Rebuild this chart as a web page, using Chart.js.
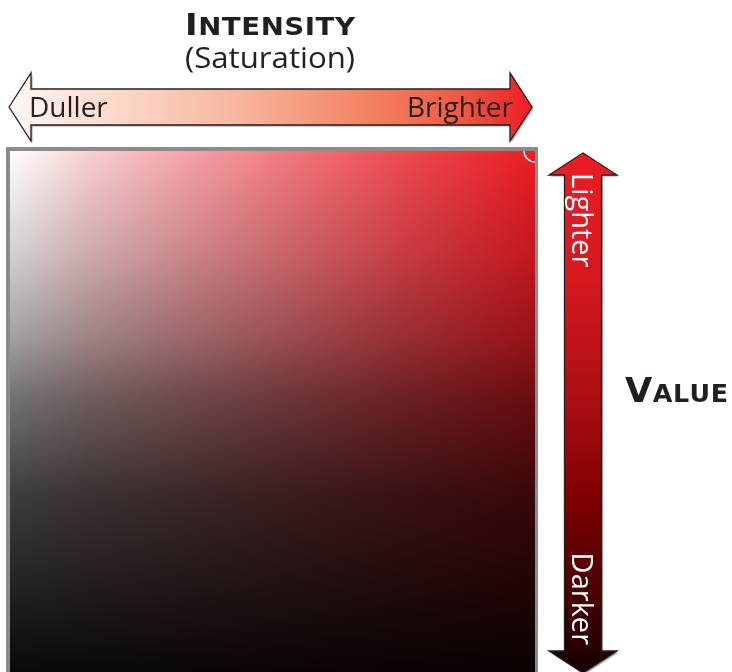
<!DOCTYPE html>
<html lang="en">
<head>
    <meta charset="UTF-8">
    <title>Intensity and Value</title>
    <style>
        html, body {
            margin: 0;
            padding: 0;
            background: #ffffff;
        }
        canvas {
            display: block;
        }
    </style>
</head>
<body>
    <canvas id="myChart" width="732" height="672"></canvas>

    <script src="https://cdn.jsdelivr.net/npm/chart.js"></script>
    <script>
        // axis ranges of the picker (saturation across, value down)
        const saturationRange = [0, 100];
        const valueRange = [0, 100];

        // arrow labels
        const intensityLabels = ['Duller', 'Brighter'];
        const valueLabels = ['Lighter', 'Darker'];

        // the picked colour (marker in the corner)
        const selectedSaturation = [100];
        const selectedValue = [100];

        const ink = '#231f20';
        const textFont = '"Open Sans", "Noto Sans", sans-serif';
        const headFont = '"DejaVu Sans", sans-serif';

        const ctx = document.getElementById('myChart').getContext('2d');

        // draws a string fitted to an exact width (small caps headings)
        function fittedText(c, parts, x, y, width, gap) {
            const glyphs = [];
            parts.forEach(([text, font]) => {
                c.font = font;
                for (const ch of text) glyphs.push([ch, font, c.measureText(ch).width]);
            });
            const natural = glyphs.reduce((s, g) => s + g[2], 0) + gap * (glyphs.length - 1);
            const k = width / natural;
            c.save();
            c.translate(x, y);
            c.scale(k, 1);
            c.textAlign = 'left';
            let cx = 0;
            glyphs.forEach(([ch, font, w]) => {
                c.font = font;
                c.fillText(ch, cx, 0);
                cx += w + gap;
            });
            c.restore();
        }

        function hArrowPath(c, x0, x1, cy, head, headHalf, shaftHalf) {
            c.beginPath();
            c.moveTo(x0, cy);
            c.lineTo(x0 + head, cy - headHalf);
            c.lineTo(x0 + head, cy - shaftHalf);
            c.lineTo(x1 - head, cy - shaftHalf);
            c.lineTo(x1 - head, cy - headHalf);
            c.lineTo(x1, cy);
            c.lineTo(x1 - head, cy + headHalf);
            c.lineTo(x1 - head, cy + shaftHalf);
            c.lineTo(x0 + head, cy + shaftHalf);
            c.lineTo(x0 + head, cy + headHalf);
            c.closePath();
        }

        function vArrowPath(c, cx, y0, y1, head, headHalf, shaftHalf) {
            c.beginPath();
            c.moveTo(cx, y0);
            c.lineTo(cx + headHalf, y0 + head);
            c.lineTo(cx + shaftHalf, y0 + head);
            c.lineTo(cx + shaftHalf, y1 - head);
            c.lineTo(cx + headHalf, y1 - head);
            c.lineTo(cx, y1);
            c.lineTo(cx - headHalf, y1 - head);
            c.lineTo(cx - shaftHalf, y1 - head);
            c.lineTo(cx - shaftHalf, y0 + head);
            c.lineTo(cx - headHalf, y0 + head);
            c.closePath();
        }

        function fillArrow(c, fill) {
            c.save();
            c.shadowColor = 'rgba(0, 0, 0, 0.35)';
            c.shadowOffsetX = 1.5;
            c.shadowOffsetY = 1.5;
            c.shadowBlur = 1;
            c.fillStyle = fill;
            c.fill();
            c.restore();
            c.lineWidth = 1.3;
            c.strokeStyle = ink;
            c.stroke();
        }

        // saturation / value square behind the marker
        const pickerSquare = {
            id: 'pickerSquare',
            beforeDatasetsDraw(chart) {
                const { ctx: c, scales: { x, y } } = chart;
                const left = x.getPixelForValue(saturationRange[0]);
                const right = x.getPixelForValue(saturationRange[1]);
                const top = y.getPixelForValue(valueRange[1]);
                const bottom = y.getPixelForValue(valueRange[0]);
                c.save();
                c.fillStyle = '#8c8c8c';
                c.fillRect(left - 4, top - 4, right - left + 7, bottom - top + 8);
                // white -> red across
                const gx = c.createLinearGradient(left, 0, right, 0);
                gx.addColorStop(0, '#ffffff');
                gx.addColorStop(0.15, '#f9cfd2');
                gx.addColorStop(0.35, '#f5a0a5');
                gx.addColorStop(0.55, '#f2747a');
                gx.addColorStop(0.75, '#ef4950');
                gx.addColorStop(1, '#ed1c24');
                c.fillStyle = gx;
                c.fillRect(left, top, right - left, bottom - top);
                // darkening downwards
                const gy = c.createLinearGradient(0, top, 0, bottom);
                gy.addColorStop(0, 'rgba(0, 0, 0, 0)');
                gy.addColorStop(0.2, 'rgba(0, 0, 0, 0.18)');
                gy.addColorStop(0.36, 'rgba(0, 0, 0, 0.37)');
                gy.addColorStop(0.47, 'rgba(0, 0, 0, 0.55)');
                gy.addColorStop(0.66, 'rgba(0, 0, 0, 0.76)');
                gy.addColorStop(0.86, 'rgba(0, 0, 0, 0.88)');
                gy.addColorStop(1, 'rgba(0, 0, 0, 0.96)');
                c.fillStyle = gy;
                c.fillRect(left, top, right - left, bottom - top);
                c.restore();
            }
        };

        // arrows and headings round the square
        const arrowsAndTitles = {
            id: 'arrowsAndTitles',
            afterDraw(chart) {
                const { ctx: c, chartArea: a } = chart;
                c.save();

                // intensity arrow
                const cy = a.top - 44;
                const x0 = a.left - 1, x1 = a.right - 3;
                hArrowPath(c, x0, x1, cy, 22, 34, 18);
                const gh = c.createLinearGradient(x0, 0, x1, 0);
                gh.addColorStop(0, '#fff8f5');
                gh.addColorStop(0.2, '#fcd9cb');
                gh.addColorStop(0.45, '#f7b49a');
                gh.addColorStop(0.7, '#f2805f');
                gh.addColorStop(0.86, '#f05a44');
                gh.addColorStop(1, '#ed1c24');
                fillArrow(c, gh);

                // value arrow
                const vx = a.right + 48;
                const y0 = a.top + 2, y1 = 673;
                vArrowPath(c, vx, y0, y1, 22, 34, 18.5);
                const gv = c.createLinearGradient(0, y0, 0, y1);
                gv.addColorStop(0, '#ed1c24');
                gv.addColorStop(0.25, '#d4191f');
                gv.addColorStop(0.5, '#a50d12');
                gv.addColorStop(0.66, '#7f0000');
                gv.addColorStop(0.83, '#4e0000');
                gv.addColorStop(1, '#160000');
                fillArrow(c, gv);

                // labels on the intensity arrow
                c.fillStyle = ink;
                c.font = '28px ' + textFont;
                c.textBaseline = 'alphabetic';
                c.textAlign = 'left';
                c.fillText(intensityLabels[0], a.left + 19, cy + 10);
                c.textAlign = 'right';
                c.fillText(intensityLabels[1], a.right - 22, cy + 10);

                // labels on the value arrow, reading downwards
                c.fillStyle = '#ffffff';
                c.font = '29px ' + textFont;
                c.save();
                c.translate(vx - 11, a.top + 22);
                c.rotate(Math.PI / 2);
                c.textAlign = 'left';
                c.fillText(valueLabels[0], 0, 0);
                c.restore();
                c.save();
                c.translate(vx - 11, 645);
                c.rotate(Math.PI / 2);
                c.textAlign = 'right';
                c.fillText(valueLabels[1], 0, 0);
                c.restore();

                // headings
                c.fillStyle = ink;
                fittedText(c, [['I', 'bold 30px ' + headFont], ['NTENSITY', 'bold 24.5px ' + headFont]], 185, 35, 170, 0.5);
                fittedText(c, [['(Saturation)', '30px ' + textFont]], 185, 68, 170, 0);
                fittedText(c, [['V', 'bold 34px ' + headFont], ['ALUE', 'bold 24.5px ' + headFont]], 625, 402, 103, 0.5);

                c.restore();
            }
        };

        const myChart = new Chart(ctx, {
            type: 'scatter',
            data: {
                datasets: [{
                    label: 'Selected colour',
                    data: selectedSaturation.map((s, i) => ({ x: s, y: selectedValue[i] })),
                    pointRadius: 11,
                    pointHoverRadius: 11,
                    pointBackgroundColor: 'rgba(0, 0, 0, 0)',
                    pointBorderColor: '#ffffff',
                    pointBorderWidth: 1.5,
                    clip: 0
                }]
            },
            options: {
                responsive: false,
                animation: false,
                devicePixelRatio: 1,
                layout: {
                    autoPadding: false,
                    padding: { left: 10, top: 151, right: 197, bottom: 0 }
                },
                scales: {
                    x: {
                        type: 'linear',
                        display: false,
                        min: saturationRange[0],
                        max: saturationRange[1]
                    },
                    y: {
                        type: 'linear',
                        display: false,
                        min: valueRange[0],
                        max: valueRange[1]
                    }
                },
                plugins: {
                    legend: { display: false },
                    tooltip: { enabled: false }
                }
            },
            plugins: [pickerSquare, arrowsAndTitles]
        });
    </script>
</body>
</html>
